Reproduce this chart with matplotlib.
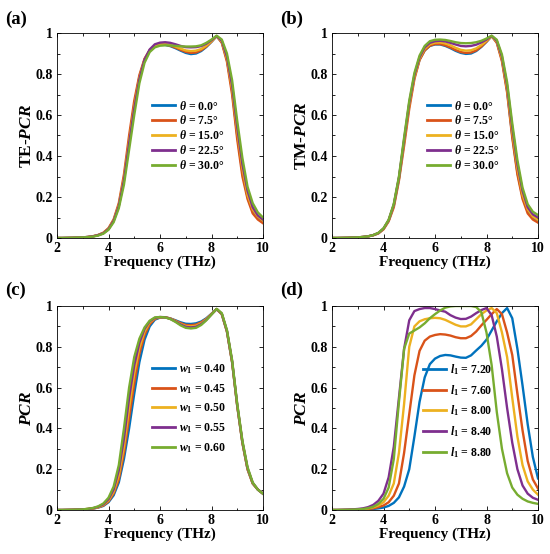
import numpy as np
import matplotlib
matplotlib.use("Agg")
import matplotlib.pyplot as plt
from matplotlib.ticker import MultipleLocator, FixedLocator

plt.rcParams['font.family'] = ['Liberation Serif', 'DejaVu Serif']
plt.rcParams['font.weight'] = 'bold'
plt.rcParams['mathtext.fontset'] = 'custom'
plt.rcParams['mathtext.rm'] = 'Liberation Serif:bold'
plt.rcParams['mathtext.it'] = 'Liberation Serif:italic:bold'
plt.rcParams['mathtext.bf'] = 'Liberation Serif:bold'

# Frequency grid (THz)
freq = [2.0, 2.2, 2.4, 2.6, 2.8, 3.0, 3.2, 3.4, 3.6, 3.8,
        4.0, 4.2, 4.4, 4.6, 4.8, 5.0, 5.2, 5.4, 5.6, 5.8,
        6.0, 6.2, 6.4, 6.6, 6.8, 7.0, 7.2, 7.4, 7.6, 7.8,
        8.0, 8.2, 8.4, 8.6, 8.8, 9.0, 9.2, 9.4, 9.6, 9.8, 10.0]

# (a) TE-PCR vs incidence angle
te_labels = ['0.0', '7.5', '15.0', '22.5', '30.0']
te_00 = [0, 0, 0.0005, 0.001, 0.002, 0.003, 0.005, 0.008, 0.014, 0.024,
         0.045, 0.085, 0.16, 0.29, 0.47, 0.65, 0.785, 0.87, 0.915, 0.936,
         0.942, 0.942, 0.936, 0.926, 0.914, 0.903, 0.897, 0.9, 0.912, 0.932,
         0.957, 0.985, 0.955, 0.87, 0.72, 0.5, 0.32, 0.2, 0.13, 0.1, 0.08]
te_75 = [0, 0, 0.0005, 0.001, 0.002, 0.003, 0.005, 0.009, 0.015, 0.026,
         0.048, 0.091, 0.17, 0.31, 0.5, 0.67, 0.795, 0.875, 0.917, 0.938,
         0.944, 0.944, 0.938, 0.929, 0.918, 0.908, 0.903, 0.905, 0.916, 0.934,
         0.958, 0.985, 0.952, 0.86, 0.7, 0.48, 0.3, 0.19, 0.12, 0.09, 0.072]
te_150 = [0, 0, 0.0005, 0.001, 0.002, 0.003, 0.005, 0.008, 0.014, 0.024,
          0.045, 0.085, 0.16, 0.29, 0.47, 0.64, 0.78, 0.868, 0.915, 0.937,
          0.945, 0.946, 0.942, 0.934, 0.924, 0.915, 0.912, 0.914, 0.922, 0.938,
          0.96, 0.985, 0.958, 0.875, 0.73, 0.52, 0.34, 0.21, 0.14, 0.105, 0.085]
te_225 = [0, 0, 0.0005, 0.001, 0.002, 0.003, 0.005, 0.008, 0.014, 0.023,
          0.043, 0.083, 0.155, 0.28, 0.46, 0.63, 0.775, 0.87, 0.92, 0.945,
          0.953, 0.955, 0.952, 0.945, 0.937, 0.931, 0.93, 0.931, 0.936, 0.948,
          0.965, 0.985, 0.962, 0.885, 0.745, 0.54, 0.36, 0.23, 0.15, 0.11, 0.09]
te_300 = [0, 0, 0.0005, 0.001, 0.002, 0.003, 0.004, 0.007, 0.012, 0.021,
          0.04, 0.077, 0.145, 0.26, 0.43, 0.6, 0.755, 0.855, 0.907, 0.93,
          0.938, 0.94, 0.939, 0.937, 0.935, 0.934, 0.934, 0.935, 0.94, 0.952,
          0.968, 0.987, 0.968, 0.9, 0.77, 0.57, 0.39, 0.25, 0.17, 0.125, 0.1]

# (b) TM-PCR vs incidence angle
tm_00 = [0, 0, 0.0005, 0.001, 0.002, 0.003, 0.005, 0.008, 0.014, 0.024,
         0.045, 0.085, 0.16, 0.29, 0.47, 0.65, 0.785, 0.87, 0.915, 0.937,
         0.944, 0.944, 0.937, 0.926, 0.913, 0.903, 0.898, 0.9, 0.912, 0.932,
         0.957, 0.985, 0.955, 0.87, 0.72, 0.5, 0.32, 0.2, 0.13, 0.1, 0.08]
tm_75 = [0, 0, 0.0005, 0.001, 0.002, 0.003, 0.005, 0.008, 0.013, 0.022,
         0.042, 0.081, 0.15, 0.28, 0.45, 0.63, 0.775, 0.868, 0.915, 0.938,
         0.946, 0.946, 0.94, 0.929, 0.917, 0.907, 0.903, 0.905, 0.915, 0.934,
         0.958, 0.985, 0.952, 0.862, 0.71, 0.49, 0.31, 0.19, 0.12, 0.09, 0.075]
tm_150 = [0, 0, 0.0005, 0.001, 0.002, 0.003, 0.005, 0.008, 0.014, 0.024,
          0.045, 0.085, 0.16, 0.29, 0.47, 0.65, 0.785, 0.875, 0.923, 0.945,
          0.953, 0.954, 0.949, 0.94, 0.928, 0.918, 0.914, 0.916, 0.925, 0.941,
          0.962, 0.985, 0.958, 0.875, 0.73, 0.52, 0.34, 0.21, 0.14, 0.105, 0.088]
tm_225 = [0, 0, 0.0005, 0.001, 0.002, 0.003, 0.005, 0.008, 0.014, 0.024,
          0.046, 0.087, 0.163, 0.295, 0.48, 0.66, 0.795, 0.882, 0.93, 0.952,
          0.96, 0.962, 0.959, 0.952, 0.944, 0.937, 0.935, 0.937, 0.943, 0.954,
          0.968, 0.986, 0.962, 0.885, 0.745, 0.54, 0.36, 0.23, 0.15, 0.115, 0.1]
tm_300 = [0, 0, 0.0005, 0.001, 0.002, 0.003, 0.005, 0.008, 0.014, 0.025,
          0.047, 0.089, 0.167, 0.3, 0.49, 0.67, 0.805, 0.89, 0.937, 0.96,
          0.967, 0.968, 0.966, 0.961, 0.955, 0.951, 0.95, 0.951, 0.955, 0.962,
          0.973, 0.987, 0.967, 0.895, 0.76, 0.56, 0.38, 0.245, 0.165, 0.128, 0.112]

# (c) PCR vs w1
w_labels = ['0.40', '0.45', '0.50', '0.55', '0.60']
w_040 = [0, 0, 0.0005, 0.001, 0.002, 0.003, 0.004, 0.007, 0.012, 0.02,
         0.038, 0.072, 0.135, 0.25, 0.4, 0.57, 0.725, 0.835, 0.9, 0.933,
         0.943, 0.944, 0.939, 0.93, 0.92, 0.913, 0.912, 0.915, 0.924, 0.94,
         0.962, 0.985, 0.96, 0.875, 0.725, 0.51, 0.33, 0.2, 0.13, 0.1, 0.08]
w_045 = [0, 0, 0.0005, 0.001, 0.002, 0.003, 0.005, 0.007, 0.013, 0.022,
         0.042, 0.081, 0.15, 0.28, 0.45, 0.62, 0.765, 0.858, 0.911, 0.937,
         0.944, 0.945, 0.939, 0.928, 0.916, 0.907, 0.906, 0.909, 0.92, 0.937,
         0.961, 0.985, 0.96, 0.875, 0.725, 0.51, 0.33, 0.2, 0.13, 0.1, 0.08]
w_050 = [0, 0, 0.0005, 0.001, 0.002, 0.003, 0.005, 0.008, 0.014, 0.025,
         0.047, 0.09, 0.17, 0.31, 0.5, 0.67, 0.795, 0.875, 0.92, 0.94,
         0.945, 0.945, 0.938, 0.926, 0.912, 0.902, 0.9, 0.903, 0.915, 0.935,
         0.96, 0.985, 0.96, 0.875, 0.725, 0.51, 0.33, 0.2, 0.13, 0.1, 0.08]
w_055 = [0, 0, 0.0005, 0.001, 0.002, 0.003, 0.005, 0.009, 0.016, 0.028,
         0.053, 0.101, 0.195, 0.35, 0.55, 0.71, 0.82, 0.888, 0.925, 0.942,
         0.946, 0.945, 0.937, 0.924, 0.909, 0.898, 0.895, 0.898, 0.911, 0.932,
         0.959, 0.985, 0.962, 0.878, 0.73, 0.515, 0.335, 0.205, 0.133, 0.1, 0.08]
w_060 = [0, 0, 0.0005, 0.001, 0.002, 0.003, 0.006, 0.01, 0.018, 0.032,
         0.06, 0.115, 0.22, 0.4, 0.6, 0.75, 0.84, 0.895, 0.928, 0.944,
         0.946, 0.944, 0.936, 0.922, 0.905, 0.893, 0.89, 0.893, 0.907, 0.93,
         0.958, 0.986, 0.965, 0.882, 0.735, 0.52, 0.34, 0.21, 0.135, 0.1, 0.08]

# (d) PCR vs l1
l_labels = ['7.20', '7.60', '8.00', '8.40', '8.80']
l_720 = [0, 0, 0, 0, 0.0005, 0.001, 0.002, 0.003, 0.005, 0.008,
         0.012, 0.02, 0.035, 0.062, 0.115, 0.2, 0.36, 0.53, 0.65, 0.715,
         0.742, 0.755, 0.76, 0.758, 0.752, 0.747, 0.746, 0.758, 0.782, 0.805,
         0.835, 0.88, 0.925, 0.965, 0.99, 0.94, 0.79, 0.61, 0.42, 0.26, 0.155]
l_760 = [0, 0, 0, 0.0005, 0.001, 0.002, 0.003, 0.005, 0.008, 0.014,
         0.022, 0.038, 0.07, 0.13, 0.28, 0.47, 0.66, 0.78, 0.83, 0.85,
         0.858, 0.862, 0.86, 0.855, 0.847, 0.842, 0.842, 0.853, 0.875, 0.905,
         0.932, 0.96, 0.985, 0.96, 0.87, 0.76, 0.57, 0.39, 0.24, 0.15, 0.105]
l_800 = [0, 0, 0.0005, 0.001, 0.002, 0.003, 0.005, 0.008, 0.013, 0.022,
         0.038, 0.07, 0.13, 0.28, 0.52, 0.8, 0.9, 0.925, 0.935, 0.94,
         0.942, 0.94, 0.932, 0.92, 0.908, 0.9, 0.9, 0.91, 0.935, 0.96,
         0.978, 0.99, 0.965, 0.87, 0.75, 0.55, 0.36, 0.22, 0.14, 0.1, 0.075]
l_840 = [0, 0, 0.001, 0.002, 0.003, 0.005, 0.008, 0.014, 0.025, 0.045,
         0.08, 0.16, 0.31, 0.55, 0.79, 0.93, 0.975, 0.985, 0.99, 0.99,
         0.985, 0.978, 0.972, 0.955, 0.943, 0.936, 0.937, 0.948, 0.965, 0.98,
         0.99, 0.955, 0.85, 0.69, 0.5, 0.33, 0.2, 0.12, 0.08, 0.06, 0.05]
l_880 = [0, 0, 0.0005, 0.001, 0.002, 0.003, 0.005, 0.009, 0.016, 0.03,
         0.055, 0.11, 0.25, 0.53, 0.79, 0.865, 0.88, 0.895, 0.915, 0.94,
         0.96, 0.978, 0.992, 0.998, 1.0, 1.0, 1.0, 1.0, 0.995, 0.97,
         0.87, 0.71, 0.48, 0.3, 0.18, 0.11, 0.075, 0.055, 0.042, 0.035, 0.03]

colors = ['#0072BD', '#D95319', '#EDB120', '#7E2F8E', '#77AC30']

fig = plt.figure(figsize=(5.5, 5.54), dpi=100)
W, H = 550.0, 554.0

def make_ax(l, t, r, b):
    return fig.add_axes([l / W, 1 - b / H, (r - l) / W, (b - t) / H])

axes = [make_ax(57, 33, 263, 238), make_ax(332, 33, 538, 238),
        make_ax(57, 306, 263, 510), make_ax(332, 306, 538, 510)]

panel_series = [
    [te_00, te_75, te_150, te_225, te_300],
    [tm_00, tm_75, tm_150, tm_225, tm_300],
    [w_040, w_045, w_050, w_055, w_060],
    [l_720, l_760, l_800, l_840, l_880],
]
panel_labels = [
    [r'$\theta$ = ' + s + '°' for s in te_labels],
    [r'$\theta$ = ' + s + '°' for s in te_labels],
    [r'$w_1$ = ' + s for s in w_labels],
    [r'$l_1$ = ' + s for s in l_labels],
]
ylabels = [r'TE-$PCR$', r'TM-$PCR$', r'$PCR$', r'$PCR$']
tags = ['(a)', '(b)', '(c)', '(d)']
legend_anchor = [(0.46, 0.675), (0.46, 0.675), (0.46, 0.725), (0.44, 0.725)]
legend_spacing = [0.15, 0.15, 0.5, 0.5]

for i, ax in enumerate(axes):
    for ys, lab, c in zip(panel_series[i], panel_labels[i], colors):
        ax.plot(freq, ys, color=c, lw=1.7, label=lab)
    ax.set_xlim(2, 10)
    ax.set_ylim(0, 1)
    ax.xaxis.set_major_locator(FixedLocator([2, 4, 6, 8, 10]))
    ax.xaxis.set_minor_locator(MultipleLocator(1))
    ax.yaxis.set_major_locator(FixedLocator([0, 0.2, 0.4, 0.6, 0.8, 1]))
    ax.yaxis.set_minor_locator(MultipleLocator(0.1))
    ax.set_yticklabels(['0', '0.2', '0.4', '0.6', '0.8', '1'])
    ax.tick_params(which='both', direction='in', top=True, right=True,
                   labelsize=10, width=0.6, pad=3)
    ax.tick_params(which='major', length=3)
    ax.tick_params(which='minor', length=1.8)
    for sp in ax.spines.values():
        sp.set_linewidth(0.6)
    ax.set_xlabel('Frequency (THz)', fontsize=11, fontweight='bold', labelpad=0)
    ax.set_ylabel(ylabels[i], fontsize=12.5, fontweight='bold', labelpad=0)
    leg = ax.legend(loc='upper left', bbox_to_anchor=legend_anchor[i], frameon=False,
                    fontsize=8.5, handlelength=2.0, handletextpad=0.3,
                    labelspacing=legend_spacing[i], borderaxespad=0, borderpad=0)
    for line in leg.get_lines():
        line.set_linewidth(2.0)

tag_pos = [(5, 19), (280, 19), (5, 290), (280, 290)]
for tag, (tx, ty) in zip(tags, tag_pos):
    fig.text(tx / W, 1 - ty / H, tag, fontsize=13.5, fontweight='bold', va='center', ha='left')

fig.savefig('out.png', dpi=100)
